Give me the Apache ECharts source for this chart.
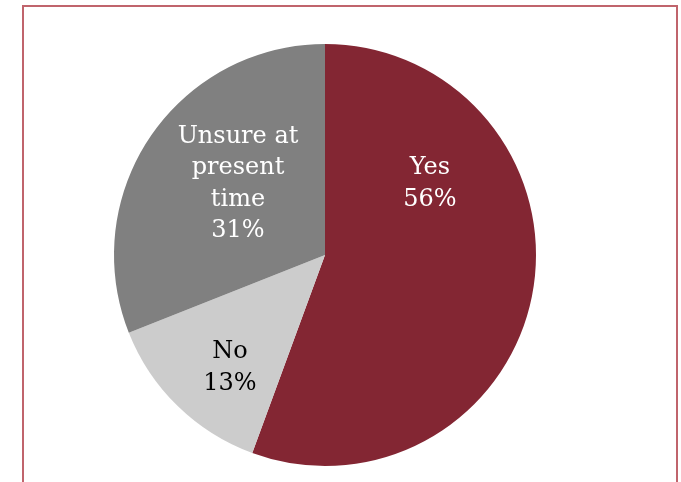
<!DOCTYPE html>
<html>
<head>
<meta charset="utf-8">
<script src="https://cdn.jsdelivr.net/npm/echarts@6/dist/echarts.min.js"></script>
<style>
html,body{margin:0;padding:0;background:#fff;}
#frame{position:absolute;left:22px;top:5px;width:652px;height:490px;border:2px solid #c0646c;border-bottom:none;}
#chart{position:absolute;left:0;top:0;width:681px;height:482px;}
</style>
</head>
<body>
<div id="frame"></div>
<div id="chart"></div>
<script>
const categories = ["Yes", "No", "Unsure at\npresent\ntime"];
const values = [55.6, 13.4, 31];
const colors = ["#832633", "#cccccc", "#808080"];
const labelColors = ["#ffffff", "#000000", "#ffffff"];
const labelPos = [[430, 184], [230, 368], [238, 184]];

const chart = echarts.init(document.getElementById('chart'), null, {renderer: 'canvas'});
chart.setOption({
  animation: false,
  series: [{
    type: 'pie',
    center: [325, 255],
    radius: [0, 211],
    startAngle: 90,
    clockwise: true,
    data: categories.map((c, i) => ({
      name: c,
      value: values[i],
      itemStyle: {color: colors[i]},
      label: {color: labelColors[i]}
    })),
    itemStyle: {borderWidth: 0},
    label: {
      show: true,
      position: 'inner',
      formatter: p => p.name + '\n' + Math.round(p.percent) + '%',
      fontFamily: 'DejaVu Serif',
      fontSize: 24,
      lineHeight: 31.5,
      align: 'center',
      verticalAlign: 'middle'
    },
    labelLayout: function (p) {
      return {x: labelPos[p.dataIndex][0], y: labelPos[p.dataIndex][1], align: 'center', verticalAlign: 'middle'};
    },
    labelLine: {show: false},
    emphasis: {disabled: true}
  }]
});
</script>
</body>
</html>
